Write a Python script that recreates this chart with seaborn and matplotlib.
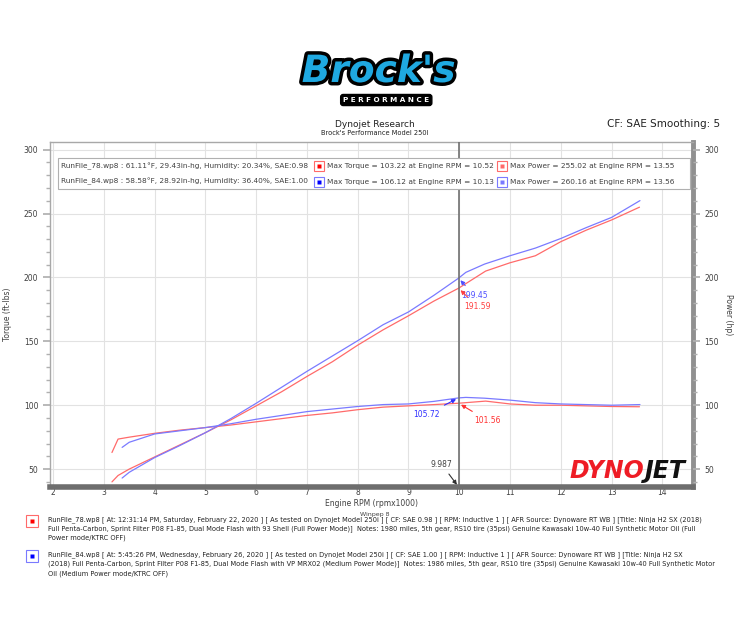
import matplotlib
matplotlib.use("Agg")
import matplotlib.pyplot as plt
import matplotlib.patheffects as pe
from matplotlib.patches import Rectangle
from matplotlib.ticker import MultipleLocator
import pandas as pd
import seaborn as sns

# run 78 (red)
rpm_78 = [3.16, 3.28, 3.5, 4.0, 4.5, 5.0, 5.5, 6.0, 6.5, 7.0, 7.5, 8.0, 8.5, 9.0, 9.5,
          9.987, 10.52, 11.0, 11.5, 12.0, 12.5, 13.0, 13.55]
torque_78 = [63, 73.5, 75, 78, 80.5, 82.5, 84.5, 87, 89.5, 92, 94, 96.5, 98.5, 99.5, 100.5,
             101.56, 103.22, 101, 100, 100, 99.5, 99, 98.8]
power_78 = [40, 45, 50, 59.5, 69, 78.5, 88.5, 99.5, 110.5, 122.5, 134, 147, 159, 170, 181.5,
            191.59, 205, 211.5, 217, 228, 237, 245, 255.02]

# run 84 (blue)
rpm_84 = [3.36, 3.5, 4.0, 4.5, 5.0, 5.5, 6.0, 6.5, 7.0, 7.5, 8.0, 8.5, 9.0, 9.5,
          9.987, 10.13, 10.5, 11.0, 11.5, 12.0, 12.5, 13.0, 13.56]
torque_84 = [67, 71, 77.5, 80, 82.5, 85.5, 89, 92, 95, 97, 99, 100.5, 101, 103,
             105.72, 106.12, 105.5, 104, 102, 101, 100.5, 100, 100.5]
power_84 = [43, 47.5, 59, 68.5, 78.5, 89.5, 101.5, 114, 126.5, 138.5, 150.5, 163, 173, 186,
            199.45, 204, 210.5, 217, 223, 230.5, 239, 247, 260.16]

cursor_rpm = 9.987
y_ticks = [50, 100, 150, 200, 250, 300]
x_ticks = list(range(2, 15))

RED = "#ff6a6a"
BLUE = "#7a7aff"
TXT = "#404040"

legend_rows = [
    "RunFile_78.wp8 : 61.11°F, 29.43in-hg, Humidity: 20.34%, SAE:0.98",
    "RunFile_84.wp8 : 58.58°F, 28.92in-hg, Humidity: 36.40%, SAE:1.00",
]
torque_rows = ["Max Torque = 103.22 at Engine RPM = 10.52", "Max Torque = 106.12 at Engine RPM = 10.13"]
power_rows = ["Max Power = 255.02 at Engine RPM = 13.55", "Max Power = 260.16 at Engine RPM = 13.56"]

notes_78 = ("RunFile_78.wp8 [ At: 12:31:14 PM, Saturday, February 22, 2020 ] [ As tested on Dynojet Model 250i ] [ CF: SAE 0.98 ] [ RPM: Inductive 1 ] [ AFR Source: Dynoware RT WB ] [Title: Ninja H2 SX (2018)\n"
            "Full Penta-Carbon, Sprint Filter P08 F1-85, Dual Mode Flash with 93 Shell (Full Power Mode)]  Notes: 1980 miles, 5th gear, RS10 tire (35psi) Genuine Kawasaki 10w-40 Full Synthetic Motor Oil (Full\n"
            "Power mode/KTRC OFF)")
notes_84 = ("RunFile_84.wp8 [ At: 5:45:26 PM, Wednesday, February 26, 2020 ] [ As tested on Dynojet Model 250i ] [ CF: SAE 1.00 ] [ RPM: Inductive 1 ] [ AFR Source: Dynoware RT WB ] [Title: Ninja H2 SX\n"
            "(2018) Full Penta-Carbon, Sprint Filter P08 F1-85, Dual Mode Flash with VP MRX02 (Medium Power Mode)]  Notes: 1986 miles, 5th gear, RS10 tire (35psi) Genuine Kawasaki 10w-40 Full Synthetic Motor\n"
            "Oil (Medium Power mode/KTRC OFF)")

sns.set_theme(style="white")
plt.rcParams["font.family"] = ["DejaVu Sans"]

fig = plt.figure(figsize=(7.5, 6.37), dpi=100)
ax = fig.add_axes([0.0667, 0.2355, 0.857, 0.5415])

df78 = pd.DataFrame({"rpm": rpm_78, "torque": torque_78, "power": power_78})
df84 = pd.DataFrame({"rpm": rpm_84, "torque": torque_84, "power": power_84})
for df, col in [(df78, RED), (df84, BLUE)]:
    sns.lineplot(data=df, x="rpm", y="torque", color=col, lw=0.9, sort=False, ax=ax)
    sns.lineplot(data=df, x="rpm", y="power", color=col, lw=0.9, sort=False, ax=ax)

ax.set_xlim(1.94, 14.6)
ax.set_ylim(36, 306)
ax.set_xticks(x_ticks)
ax.set_yticks(y_ticks)
ax.xaxis.set_minor_locator(MultipleLocator(0.2))
ax.yaxis.set_minor_locator(MultipleLocator(10))
ax.grid(True, which="major", color="#e2e2e2", lw=0.8)
ax.tick_params(axis="x", which="both", direction="in", color="#606060", labelsize=5.5,
               labelcolor=TXT, pad=1)
ax.tick_params(axis="x", which="major", length=5, width=0.8)
ax.tick_params(axis="x", which="minor", length=3.5, width=0.6)
ax.tick_params(axis="y", which="both", direction="out", color="#b0b0b0", labelsize=5.5,
               labelcolor=TXT)
ax.tick_params(axis="y", which="major", length=5, left=True)
ax.tick_params(axis="y", which="minor", length=3, left=True)
ax.set_xlabel("Engine RPM (rpmx1000)", fontsize=5.5, color=TXT, labelpad=1)
ax.set_ylabel("Torque (ft-lbs)", fontsize=5.5, color=TXT, labelpad=8)

for side in ["top", "left"]:
    ax.spines[side].set_color("#a8a8a8")
    ax.spines[side].set_linewidth(1)
ax.spines["bottom"].set_color("#6e6e6e")
ax.spines["bottom"].set_linewidth(4)
ax.spines["right"].set_color("#909090")
ax.spines["right"].set_linewidth(3.5)

ax2 = ax.twinx()
ax2.set_ylim(ax.get_ylim())
ax2.set_yticks(y_ticks)
ax2.yaxis.set_minor_locator(MultipleLocator(10))
ax2.tick_params(axis="y", which="both", direction="out", color="#b0b0b0", labelsize=5.5,
                labelcolor=TXT, right=True)
ax2.tick_params(axis="y", which="major", length=5)
ax2.tick_params(axis="y", which="minor", length=3)
ax2.set_ylabel("Power (hp)", fontsize=5.5, color=TXT, rotation=270, labelpad=10)
for s in ax2.spines.values():
    s.set_visible(False)
ax2.grid(False)

# cursor line
ax.axvline(cursor_rpm, color="#707070", lw=1.2, zorder=3)
arrow = dict(arrowstyle="-|>", lw=0.8, mutation_scale=6)
ax.annotate("9.987", xy=(cursor_rpm, 36), xytext=(9.65, 52), fontsize=5.5, color=TXT,
            ha="center", arrowprops=dict(arrow, color="#303030"))
ax.annotate(f"{power_84[14]:.2f}", xy=(cursor_rpm, power_84[14]), xytext=(10.03, 184),
            fontsize=5.5, color="#5050ff", arrowprops=dict(arrow, color="#5050ff"))
ax.annotate(f"{power_78[15]:.2f}", xy=(cursor_rpm, power_78[15]), xytext=(10.1, 175),
            fontsize=5.5, color="#ff4040", arrowprops=dict(arrow, color="#ff4040"))
ax.annotate(f"{torque_84[14]:.2f}", xy=(cursor_rpm, torque_84[14]), xytext=(9.1, 91),
            fontsize=5.5, color="#3030ff", arrowprops=dict(arrow, color="#3030ff"))
ax.annotate(f"{torque_78[15]:.2f}", xy=(cursor_rpm, torque_78[15]), xytext=(10.3, 86),
            fontsize=5.5, color="#ff3030", arrowprops=dict(arrow, color="#ff3030"))

# legend box
ax.add_patch(Rectangle((0.012, 0.865), 0.984, 0.088, transform=ax.transAxes,
                       facecolor="white", edgecolor="#b0b0b0", lw=0.8, zorder=4))
for i, (col, inner) in enumerate([(RED, "#ff0000"), (BLUE, "#0000ff")]):
    yy = 0.93 - i * 0.045
    ax.text(0.017, yy, legend_rows[i], transform=ax.transAxes, fontsize=5.3, color=TXT,
            va="center", zorder=5)
    for mx, label in [(0.418, torque_rows[i]), (0.703, power_rows[i])]:
        ax.plot(mx, yy, marker="s", ms=7, mfc="white", mec=col, mew=0.8,
                transform=ax.transAxes, zorder=5, clip_on=False)
        ax.plot(mx, yy, marker="s", ms=2.5, mfc=inner if mx < 0.5 else col, mec="none",
                transform=ax.transAxes, zorder=6, clip_on=False)
        ax.text(mx + 0.013, yy, label, transform=ax.transAxes, fontsize=5.3, color=TXT,
                va="center", zorder=5)

# dynojet logo
ax.text(0.925, 0.045, "DYNO", transform=ax.transAxes, fontsize=17, fontweight="heavy",
        style="italic", color="#ee1c25", ha="right", va="center", zorder=5)
ax.text(0.925, 0.045, "JET", transform=ax.transAxes, fontsize=17, fontweight="heavy",
        style="italic", color="#111111", ha="left", va="center", zorder=5)

# header
fig.text(0.505, 0.887, "Brock's", fontsize=27, fontweight="heavy", style="italic",
         color="#1fa9e1", ha="center", va="center",
         path_effects=[pe.withStroke(linewidth=5, foreground="black")])
fig.text(0.515, 0.843, "P E R F O R M A N C E", fontsize=5.2, fontweight="bold", color="white",
         ha="center", va="center",
         bbox=dict(boxstyle="round,pad=0.35", facecolor="black", edgecolor="black"))
fig.text(0.5, 0.805, "Dynojet Research", fontsize=6.5, color="#222222", ha="center", va="center")
fig.text(0.5, 0.791, "Brock's Performance Model 250I", fontsize=4.8, color="#222222",
         ha="center", va="center")
fig.text(0.96, 0.806, "CF: SAE Smoothing: 5", fontsize=7.5, color="#222222", ha="right",
         va="center")
fig.text(0.5, 0.192, "Winpep 8", fontsize=4.5, color=TXT, ha="center", va="center")

# run notes
for yf, col, inner, note in [(0.182, RED, "#ff0000", notes_78), (0.127, BLUE, "#0000ff", notes_84)]:
    fig.lines.append(plt.Line2D([0.043], [yf], marker="s", ms=8, mfc="white", mec=col, mew=0.8,
                                transform=fig.transFigure))
    fig.lines.append(plt.Line2D([0.043], [yf], marker="s", ms=3, mfc=inner, mec="none",
                                transform=fig.transFigure))
    fig.text(0.064, yf + 0.008, note, fontsize=4.8, color="#222222", ha="left", va="top",
             linespacing=1.55)

fig.savefig("out.png", dpi=100, facecolor="white")
